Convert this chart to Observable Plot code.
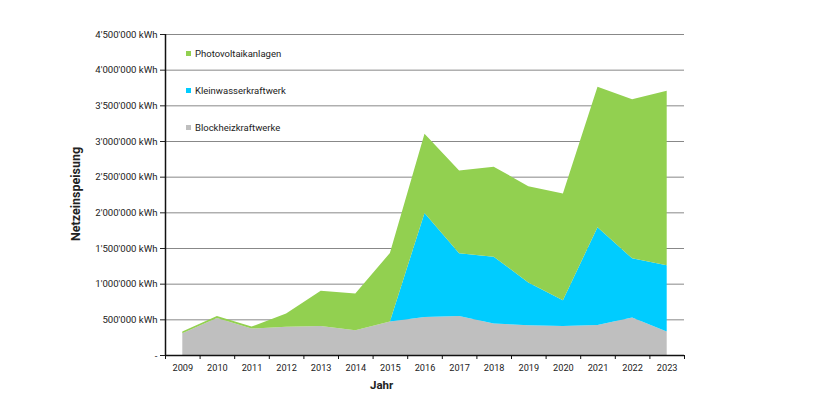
<!DOCTYPE html>
<html>
<head>
<meta charset="utf-8">
<script src="https://cdn.jsdelivr.net/npm/d3@7"></script>
<script src="https://cdn.jsdelivr.net/npm/@observablehq/plot@0.6"></script>
<style>
  html, body { margin: 0; padding: 0; background: #fff; }
  #wrap { position: relative; width: 820px; height: 400px; font-family: Roboto, "DejaVu Sans", sans-serif; color: #222; }
  #wrap svg { display: block; }
  .lg { position: absolute; left: 186px; font-size: 9.5px; line-height: 10px; white-space: nowrap; }
  .lg i { display: inline-block; width: 5px; height: 5px; margin-right: 4px; vertical-align: 1px; }
  .ttl { position: absolute; font-weight: bold; white-space: nowrap; }
</style>
</head>
<body>
<div id="wrap"></div>
<script>
const years = [2009, 2010, 2011, 2012, 2013, 2014, 2015, 2016, 2017, 2018, 2019, 2020, 2021, 2022, 2023];
const blockheiz = [305000, 520000, 370000, 395000, 408000, 347000, 469000, 534000, 548000, 441000, 417000, 408000, 422000, 525000, 330000];
const kleinwasser = [0, 0, 0, 0, 0, 0, 0, 1458000, 877000, 937000, 600000, 361000, 1368000, 830000, 927000];
const photovoltaik = [23000, 25000, 28000, 186000, 492000, 515000, 961000, 1111000, 1162000, 1262000, 1350000, 1496000, 1969000, 2231000, 2446000];
const seriesNames = ["Blockheizkraftwerke", "Kleinwasserkraftwerk", "Photovoltaikanlagen"];
const seriesColors = ["#bfbfbf", "#00ccff", "#92d050"];
const legendOrder = ["Photovoltaikanlagen", "Kleinwasserkraftwerk", "Blockheizkraftwerke"];
const yTicks = [0, 500000, 1000000, 1500000, 2000000, 2500000, 3000000, 3500000, 4000000, 4500000];
const xLabel = "Jahr";
const yLabel = "Netzeinspeisung";

const seriesValues = [blockheiz, kleinwasser, photovoltaik];
const rows = [];
seriesNames.forEach((name, s) => {
  years.forEach((yr, i) => rows.push({year: yr, type: name, value: seriesValues[s][i]}));
});
const bounds = years.map(y => y - 0.5).concat([years[years.length - 1] + 0.5]);

const loc = d3.formatLocale({decimal: ".", thousands: "'", grouping: [3], currency: ["", ""]});
const fmt = loc.format(",");
const yFmt = v => v === 0 ? "-" : fmt(v) + " kWh";

const chart = Plot.plot({
  width: 820,
  height: 400,
  marginLeft: 165,
  marginRight: 136,
  marginTop: 34,
  marginBottom: 45,
  style: {fontFamily: "Roboto, 'DejaVu Sans', sans-serif", fontSize: "9px", color: "#222", background: "#fff"},
  x: {type: "linear", domain: [bounds[0], bounds[bounds.length - 1]]},
  y: {domain: [0, 4500000]},
  color: {domain: seriesNames, range: seriesColors},
  marks: [
    Plot.gridY(yTicks, {stroke: "#888", strokeOpacity: 1, strokeWidth: 1}),
    Plot.areaY(rows, {x: "year", y: "value", fill: "type", order: seriesNames, curve: "linear"}),
    Plot.axisY(yTicks, {tickFormat: yFmt, tickSize: 5, tickPadding: 3, label: null, stroke: "#222", fontSize: 9.6}),
    Plot.axisX(years, {tickFormat: d => String(d), tickSize: 0, tickPadding: 9, label: null, fontSize: 9.2}),
    Plot.axisX(bounds, {tickFormat: () => "", tickSize: 4, label: null, stroke: "#111"}),
    Plot.ruleX([bounds[0]], {stroke: "#111", strokeWidth: 1.5}),
    Plot.ruleY([0], {stroke: "#111", strokeWidth: 1.5})
  ]
});

const wrap = document.getElementById("wrap");
wrap.appendChild(chart);

const legendTops = [49, 86, 123];
legendOrder.forEach((name, i) => {
  const d = document.createElement("div");
  d.className = "lg";
  d.style.top = legendTops[i] + "px";
  const sw = document.createElement("i");
  sw.style.background = seriesColors[seriesNames.indexOf(name)];
  d.appendChild(sw);
  d.appendChild(document.createTextNode(name));
  wrap.appendChild(d);
});

const xt = document.createElement("div");
xt.className = "ttl";
xt.textContent = xLabel;
xt.style.fontSize = "11.5px";
xt.style.left = "370px";
xt.style.top = "378px";
wrap.appendChild(xt);

const yt = document.createElement("div");
yt.className = "ttl";
yt.textContent = yLabel;
yt.style.fontSize = "12.5px";
yt.style.left = "75px";
yt.style.top = "194px";
yt.style.transform = "translate(-50%, -50%) rotate(-90deg)";
wrap.appendChild(yt);
</script>
</body>
</html>
